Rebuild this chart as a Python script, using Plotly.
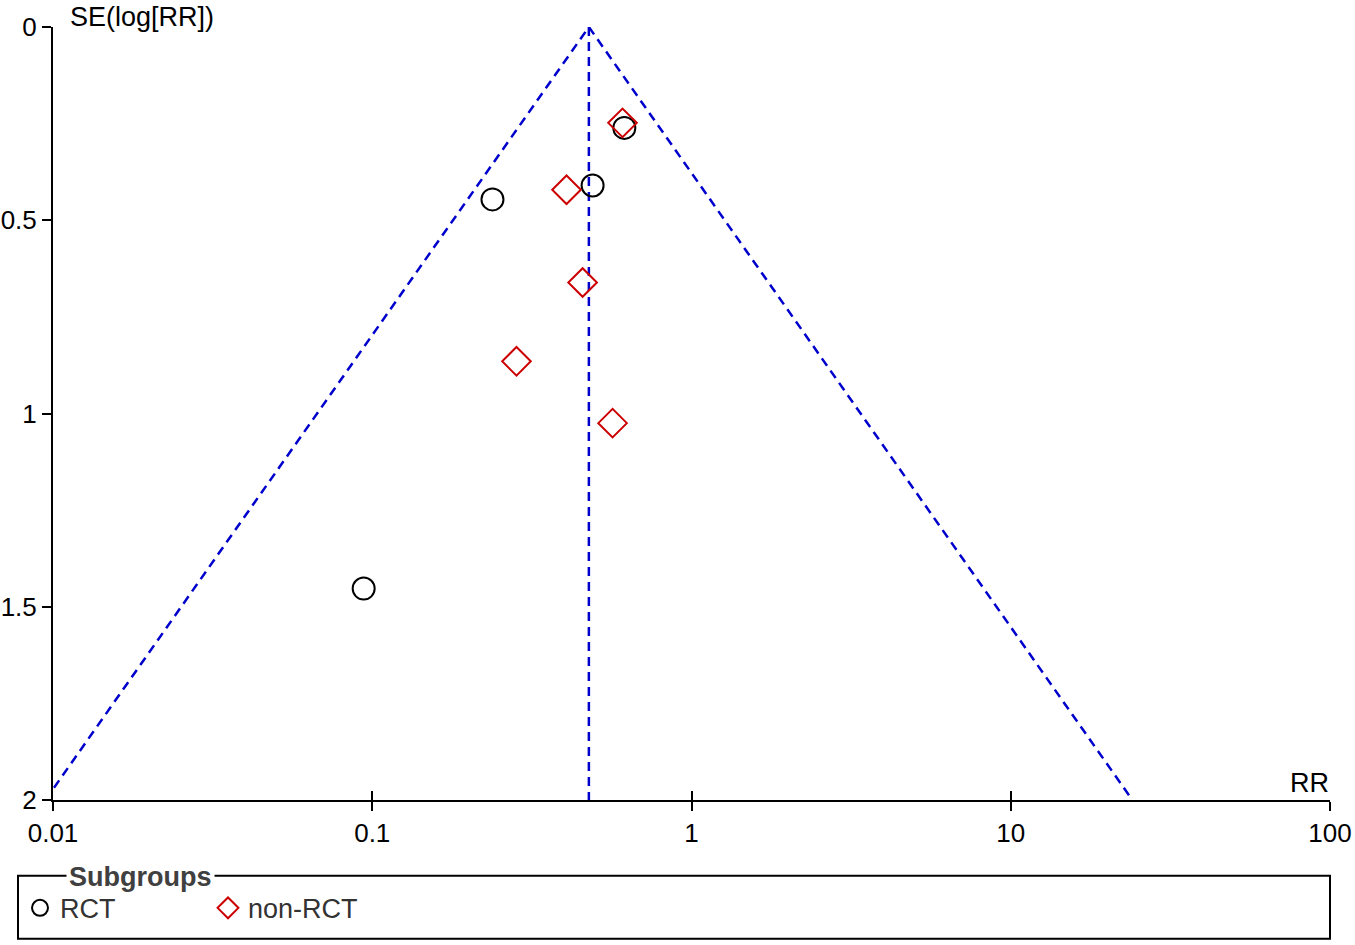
import numpy as np
import plotly.graph_objects as go

# study estimates
rct_rr = [0.616, 0.490, 0.238, 0.094]
rct_se = [0.261, 0.410, 0.446, 1.453]

nonrct_rr = [0.608, 0.406, 0.456, 0.283, 0.566]
nonrct_se = [0.248, 0.421, 0.661, 0.865, 1.025]

pooled_rr = 0.477
se_limits = [0, 2]

x_ticks = [0.01, 0.1, 1, 10, 100]
x_ticktext = ["0.01", "0.1", "1", "10", "100"]
y_ticks = [0, 0.5, 1, 1.5, 2]
y_ticktext = ["0", "0.5", "1", "1.5", "2"]

# pseudo 95% confidence limits
lower = [np.exp(np.log(pooled_rr) - 1.96 * s) for s in se_limits]
upper = [np.exp(np.log(pooled_rr) + 1.96 * s) for s in se_limits]

FONT = "Liberation Sans, Arial, sans-serif"
BLUE = "#0000cc"
RED = "#cc0000"
dash_style = dict(color=BLUE, width=2.5, dash="9px,6px")

fig = go.Figure()

fig.add_trace(go.Scatter(x=[lower[1], lower[0], upper[1]], y=[se_limits[1], se_limits[0], se_limits[1]],
                         mode="lines", line=dash_style, showlegend=False, hoverinfo="skip"))
fig.add_trace(go.Scatter(x=[pooled_rr, pooled_rr], y=se_limits,
                         mode="lines", line=dash_style, showlegend=False, hoverinfo="skip"))

fig.add_trace(go.Scatter(
    x=rct_rr, y=rct_se, mode="markers", name="RCT",
    marker=dict(symbol="circle-open", size=22, color="black", line=dict(width=2, color="black"))
))
fig.add_trace(go.Scatter(
    x=nonrct_rr, y=nonrct_se, mode="markers", name="non-RCT",
    marker=dict(symbol="diamond-open", size=22, color=RED, line=dict(width=2, color=RED))
))

# dummy trace for the overlay axes that draw the inner half of the ticks
fig.add_trace(go.Scatter(x=[pooled_rr], y=[0], xaxis="x2", yaxis="y2", mode="markers",
                         marker=dict(opacity=0), showlegend=False, hoverinfo="skip"))

W, H = 1355, 945
L, R, T, B = 53, 25, 27, 143
pw, ph = W - L - R, H - T - B

def px_x(p):
    # pixel -> paper fraction
    return (p - L) / pw

def px_y(p):
    return (H - B - p) / ph

axis_common = dict(showgrid=False, zeroline=False, linecolor="black", linewidth=2,
                   ticks="outside", ticklen=9, tickwidth=2, tickcolor="black", automargin=False,
                   tickfont=dict(family=FONT, size=26, color="black"))

fig.update_layout(
    width=W, height=H,
    margin=dict(l=L, r=R, t=T, b=B),
    plot_bgcolor="white", paper_bgcolor="white",
    font=dict(family=FONT, size=26, color="#333333"),
    xaxis=dict(type="log", range=[-2, 2], tickvals=x_ticks, ticktext=x_ticktext,
               showline=True, **axis_common),
    yaxis=dict(range=[2, 0], tickvals=y_ticks, ticktext=y_ticktext,
               showline=True, **axis_common),
    xaxis2=dict(type="log", range=[-2, 2], tickvals=x_ticks[:-1], overlaying="x", side="bottom",
                showline=False, showgrid=False, zeroline=False, showticklabels=False, automargin=False,
                ticks="inside", ticklen=9, tickwidth=2, tickcolor="black"),
    yaxis2=dict(range=[2, 0], tickvals=y_ticks[:1], overlaying="y", side="left",
                showline=False, showgrid=False, zeroline=False, showticklabels=False, automargin=False,
                ticks="inside", ticklen=9, tickwidth=2, tickcolor="black"),
    legend=dict(orientation="h", x=px_x(20), xanchor="left", y=px_y(886), yanchor="top",
                bgcolor="rgba(0,0,0,0)", borderwidth=0, entrywidth=143,
                font=dict(family=FONT, size=27, color="#333333"), itemwidth=30),
    showlegend=True,
)

# legend frame with the title sitting on the top border
fig.add_shape(type="rect", xref="paper", yref="paper",
              x0=px_x(18), x1=px_x(1330), y0=px_y(941), y1=px_y(878),
              line=dict(color="black", width=2), fillcolor="rgba(0,0,0,0)")
fig.add_annotation(text="<b>Subgroups</b>", xref="paper", yref="paper",
                   x=px_x(66), y=px_y(879), xanchor="left", yanchor="middle",
                   showarrow=False, bgcolor="white", borderpad=2,
                   font=dict(family=FONT, size=27, color="#404040"))

fig.add_annotation(text="SE(log[RR])", xref="paper", yref="paper",
                   x=px_x(68), y=px_y(17), xanchor="left", yanchor="middle",
                   showarrow=False, font=dict(family=FONT, size=27, color="black"))
fig.add_annotation(text="RR", xref="paper", yref="paper",
                   x=px_x(1331), y=px_y(785), xanchor="right", yanchor="middle",
                   showarrow=False, font=dict(family=FONT, size=27, color="black"))

fig.write_html("out.html", config={"displayModeBar": False},
               post_script="document.body.style.margin = '0';")
